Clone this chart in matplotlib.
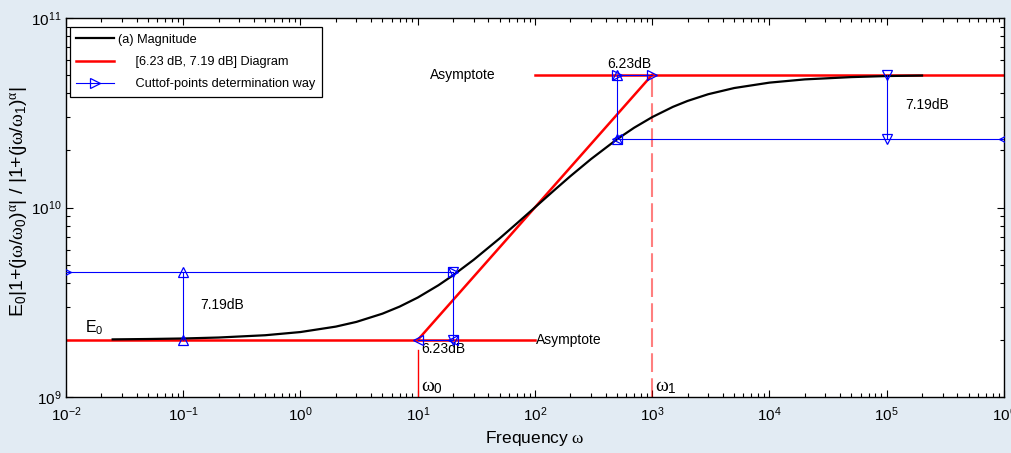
import matplotlib
matplotlib.use("Agg")
import matplotlib.pyplot as plt
from matplotlib.lines import Line2D
from matplotlib.ticker import LogLocator, NullFormatter

plt.rcParams['font.family'] = ['Liberation Sans', 'DejaVu Sans']
plt.rcParams['mathtext.fontset'] = 'custom'
plt.rcParams['mathtext.rm'] = 'Liberation Sans'
plt.rcParams['mathtext.it'] = 'Liberation Serif'
plt.rcParams['mathtext.bf'] = 'Liberation Sans:bold'

# ---- data ----
omega = [0.025, 0.05, 0.1, 0.2, 0.5, 1, 2, 3, 5, 7, 10, 15, 20, 30, 50, 70, 100,
         150, 200, 300, 500, 700, 1000, 1500, 2000, 3000, 5000, 1e4, 2e4, 5e4, 1e5, 2e5]
magnitude = [2.014e9, 2.023e9, 2.036e9, 2.060e9, 2.118e9, 2.202e9, 2.352e9, 2.491e9,
             2.753e9, 2.999e9, 3.348e9, 3.887e9, 4.388e9, 5.298e9, 6.874e9, 8.243e9,
             1.002e10, 1.252e10, 1.462e10, 1.800e10, 2.290e10, 2.635e10, 3.00e10,
             3.397e10, 3.65e10, 3.961e10, 4.27e10, 4.56e10, 4.743e10, 4.877e10,
             4.94e10, 4.97e10]

E0 = 2.0e9
E_high = 5.02e10
w0 = 10
w1 = 1000
low_cut = 4.58e9    # E0 + 7.19 dB
high_cut = 2.29e10  # E_high - 7.19 dB
w_low_cut = 20
w_high_cut = 500
x_min, x_max = 1e-2, 1e6
y_min, y_max = 1e9, 1e11

# asymptote diagram
low_asym_x = [x_min, 100]
low_asym_y = [E0, E0]
slope_x = [w0, w1]
slope_y = [E0, E_high]
high_asym_x = [100, x_max]
high_asym_y = [E_high, E_high]

fig = plt.figure(figsize=(10.12, 4.53), dpi=100)
fig.patch.set_facecolor('#e2ebf3')
ax = fig.add_axes([66/1012, 1-397/453, 938/1012, 379/453])
ax.set_facecolor('white')
ax.set_xscale('log')
ax.set_yscale('log')
ax.set_xlim(x_min, x_max)
ax.set_ylim(y_min, y_max)

blue = '#0000ff'
red = '#ff0000'
mk = dict(markersize=7, markerfacecolor='none', markeredgecolor=blue, markeredgewidth=0.9)

# black magnitude curve
ax.plot(omega, magnitude, color='black', lw=1.6, zorder=3)

# red diagram
ax.plot(low_asym_x, low_asym_y, color=red, lw=1.8, zorder=2)
ax.plot(slope_x, slope_y, color=red, lw=1.8, zorder=2)
ax.plot(high_asym_x, high_asym_y, color=red, lw=1.8, zorder=2)
ax.plot([w0, w0], [y_min, 1.77e9], color=red, lw=1.0, zorder=2)
ax.plot([w1, w1], [y_min, E_high], color=red, lw=1.5, alpha=0.5,
        dashes=(9, 3), zorder=2)

# blue cutoff-determination lines
ax.plot([x_min, w_low_cut], [low_cut, low_cut], color=blue, lw=0.8, marker='>', **mk, zorder=4)
ax.plot([0.1, 0.1], [E0, low_cut], color=blue, lw=0.8, marker='^', **mk, zorder=4)
ax.plot([w_low_cut, w_low_cut], [low_cut, E0], color=blue, lw=0.8, marker='v', **mk, zorder=4)
ax.plot([w_low_cut, w0], [E0, E0], color=blue, lw=0.8, marker='<', **mk, zorder=4)
ax.plot([w_high_cut, w_high_cut], [high_cut, E_high], color=blue, lw=0.8, marker='^', **mk, zorder=4)
ax.plot([w_high_cut, w1], [E_high, E_high], color=blue, lw=0.8, marker='>', **mk, zorder=4)
ax.plot([w_high_cut, x_max], [high_cut, high_cut], color=blue, lw=0.8, marker='<', **mk, zorder=4)
ax.plot([1e5, 1e5], [E_high, high_cut], color=blue, lw=0.8, marker='v', **mk, zorder=4)

# annotations
fs = 10
ax.text(12.7, E_high, 'Asymptote', fontsize=fs, ha='left', va='center')
ax.text(102, E0, 'Asymptote', fontsize=fs, ha='left', va='center')
ax.text(640, 5.7e10, '6.23dB', fontsize=fs, ha='center', va='center')
ax.text(10.8, 1.80e9, '6.23dB', fontsize=fs, ha='left', va='center')
ax.text(0.14, 3.06e9, '7.19dB', fontsize=fs, ha='left', va='center')
ax.text(1.43e5, 3.47e10, '7.19dB', fontsize=fs, ha='left', va='center')
ax.text(0.0145, 2.2e9, r'E$_0$', fontsize=11.5, ha='left', va='baseline')
ax.text(10.6, 1.07e9, r'$\omega_0$', fontsize=14, ha='left', va='baseline')
ax.text(1060, 1.07e9, r'$\omega_1$', fontsize=14, ha='left', va='baseline')

# ticks
ax.xaxis.set_major_locator(LogLocator(base=10, numticks=20))
ax.xaxis.set_minor_locator(LogLocator(base=10, subs=range(2, 10), numticks=100))
ax.xaxis.set_minor_formatter(NullFormatter())
ax.yaxis.set_major_locator(LogLocator(base=10, numticks=20))
ax.yaxis.set_minor_locator(LogLocator(base=10, subs=range(2, 10), numticks=100))
ax.yaxis.set_minor_formatter(NullFormatter())
ax.tick_params(which='both', direction='in', top=True, right=True, labelsize=11)
ax.tick_params(which='major', length=5, width=0.8)
ax.tick_params(which='minor', length=3, width=0.8)
ax.tick_params(axis='x', pad=6)
for s in ax.spines.values():
    s.set_linewidth(1.0)

ax.set_xlabel(r'Frequency $\omega$', fontsize=12.5, labelpad=4)
ax.set_ylabel(r'E$_0$|1+(j$\omega$/$\omega_0$)$^\alpha$| / |1+(j$\omega$/$\omega_1$)$^\alpha$|',
              fontsize=14)
ax.yaxis.set_label_coords(-0.038, 0.515)

handles = [
    Line2D([], [], color='black', lw=1.6),
    Line2D([], [], color=red, lw=1.8),
    Line2D([], [], color=blue, lw=0.8, marker='>', **mk),
]
labels = ['(a) Magnitude', '     [6.23 dB, 7.19 dB] Diagram', '     Cuttof-points determination way']
leg = ax.legend(handles, labels, loc='upper left', bbox_to_anchor=(0.004, 0.975),
                borderaxespad=0, fontsize=9.2, frameon=True, fancybox=False,
                edgecolor='black', framealpha=1, handlelength=3.0, handletextpad=0.3,
                labelspacing=0.8, borderpad=0.5)
leg.get_frame().set_linewidth(0.9)

fig.savefig('out.png', dpi=100, facecolor=fig.get_facecolor())
